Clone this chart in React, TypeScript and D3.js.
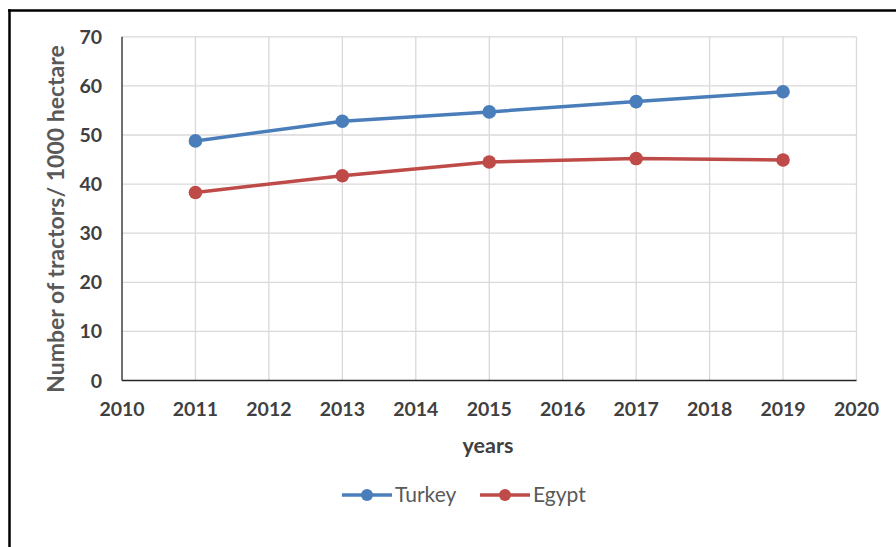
import React from "react";
import * as d3 from "d3";

const years = [2011, 2013, 2015, 2017, 2019];
const turkey = [48.8, 52.8, 54.7, 56.8, 58.8];
const egypt = [38.3, 41.7, 44.5, 45.2, 44.9];
const xTicks = [2010, 2011, 2012, 2013, 2014, 2015, 2016, 2017, 2018, 2019, 2020];
const yTicks = [0, 10, 20, 30, 40, 50, 60, 70];
const seriesNames = ["Turkey", "Egypt"];
const seriesColors = ["#4A7EBB", "#BE4B48"];

const W = 896;
const H = 547;
const FONT = "Lato, 'Open Sans', sans-serif";

export default function App() {
  const x = d3.scaleLinear().domain([2010, 2020]).range([122, 856.5]);
  const y = d3.scaleLinear().domain([0, 70]).range([380.5, 36.8]);
  const line = d3
    .line<[number, number]>()
    .x((d) => x(d[0]))
    .y((d) => y(d[1]));
  const series = [turkey, egypt].map((vals, i) => ({
    name: seriesNames[i],
    color: seriesColors[i],
    pts: years.map((yr, j) => [yr, vals[j]] as [number, number]),
  }));
  const legendX = [342, 480];
  return (
    <div style={{ position: "absolute", left: 0, top: 0 }}>
      <svg width={W} height={H} style={{ display: "block", background: "#fff" }}>
        <rect x={0} y={0} width={W} height={H} fill="#fff" />
        {/* frame */}
        <line x1={8} x2={W} y1={10.5} y2={10.5} stroke="#000" strokeWidth={2.5} />
        <line x1={9.5} x2={9.5} y1={9.3} y2={H} stroke="#000" strokeWidth={2.5} />
        {/* grid */}
        {yTicks.filter((t) => t > 0).map((t) => (
          <line key={"h" + t} x1={x(2010)} x2={x(2020)} y1={y(t)} y2={y(t)} stroke="#d9d9d9" strokeWidth={1.3} />
        ))}
        {xTicks.filter((t) => t > 2010).map((t) => (
          <line key={"v" + t} x1={x(t)} x2={x(t)} y1={y(70)} y2={y(0)} stroke="#d9d9d9" strokeWidth={1.3} />
        ))}
        {/* axes */}
        <line x1={x(2010)} x2={x(2010)} y1={y(70)} y2={y(0)} stroke="#404040" strokeWidth={1.5} />
        <line x1={x(2010)} x2={x(2020)} y1={y(0)} y2={y(0)} stroke="#262626" strokeWidth={1.5} />
        {/* y tick labels */}
        {yTicks.map((t) => (
          <text key={"yl" + t} x={102} y={y(t) + 7} textAnchor="end" fontFamily={FONT} fontWeight={700} fontSize={19.5} fill="#404040">
            {t}
          </text>
        ))}
        {/* x tick labels */}
        {xTicks.map((t) => (
          <text key={"xl" + t} x={x(t)} y={416} textAnchor="middle" fontFamily={FONT} fontWeight={700} fontSize={19.5} fill="#404040">
            {t}
          </text>
        ))}
        {/* axis titles */}
        <text x={488} y={453} textAnchor="middle" fontFamily={FONT} fontWeight={700} fontSize={21.5} fill="#404040">
          years
        </text>
        <text
          transform={`translate(64,219) rotate(-90)`}
          textAnchor="middle"
          fontFamily={FONT}
          fontWeight={700}
          fontSize={23}
          fill="#595959"
        >
          Number of tractors/ 1000 hectare
        </text>
        {/* series */}
        {series.map((s) => (
          <g key={s.name}>
            <path d={line(s.pts) || ""} fill="none" stroke={s.color} strokeWidth={3.5} strokeLinejoin="round" />
            {s.pts.map((p, j) => (
              <circle key={j} cx={x(p[0])} cy={y(p[1])} r={6.8} fill={s.color} />
            ))}
          </g>
        ))}
        {/* legend */}
        {series.map((s, i) => (
          <g key={"lg" + s.name}>
            <line x1={legendX[i]} x2={legendX[i] + 50} y1={495} y2={495} stroke={s.color} strokeWidth={3.5} />
            <circle cx={legendX[i] + 25} cy={495} r={6} fill={s.color} />
            <text x={legendX[i] + 53} y={502} fontFamily={FONT} fontSize={21} fill="#595959">
              {s.name}
            </text>
          </g>
        ))}
      </svg>
    </div>
  );
}
